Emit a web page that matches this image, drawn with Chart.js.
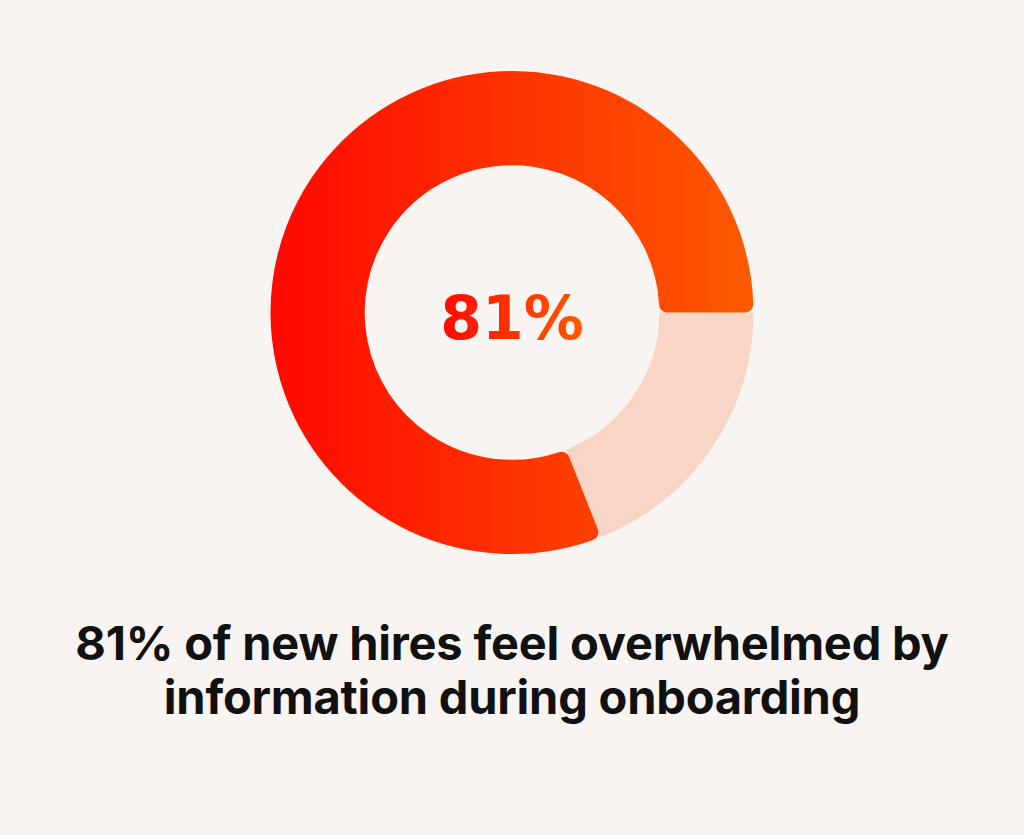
<!DOCTYPE html>
<html>
<head>
<meta charset="utf-8">
<script src="https://cdn.jsdelivr.net/npm/chart.js@4"></script>
<style>
	html, body { margin: 0; padding: 0; background: #f8f4f1; }
	.page { position: relative; width: 1024px; height: 835px; }
	.chart-wrap { position: absolute; left: 0; top: 71px; width: 1024px; height: 483px; }
	.caption {
		position: absolute; left: 0; top: 616px; width: 1024px;
		text-align: center; font-family: Inter, sans-serif; font-weight: 700;
		font-size: 47px; line-height: 54px; color: #111; letter-spacing: -0.2px;
	}
</style>
</head>
<body>
<div class="page">
	<div class="chart-wrap"><canvas id="donut"></canvas></div>
	<div class="caption">81% of new hires feel overwhelmed by<br>information during onboarding</div>
</div>
<script>
const labels = ['Not overwhelmed', 'Overwhelmed'];
const values = [19, 81];
const center_label = '81%';

const center_text = {
	id: 'center_text',
	afterDraw(chart) {
		let ctx = chart.ctx,
				arc = chart.getDatasetMeta(0).data[0];
		ctx.save();
		ctx.font = '700 60px "DejaVu Sans", sans-serif';
		ctx.textAlign = 'center';
		ctx.textBaseline = 'middle';
		let w = ctx.measureText(center_label).width;
		let g = ctx.createLinearGradient(arc.x - w / 2, 0, arc.x + w / 2, 0);
		g.addColorStop(0, '#ff0a00');
		g.addColorStop(1, '#ff5a00');
		ctx.fillStyle = g;
		ctx.fillText(center_label, arc.x, arc.y + 11);
		ctx.restore();
	}
};

new Chart(document.getElementById('donut'), {
	type: 'doughnut',
	data: {
		labels: labels,
		datasets: [{
			data: values,
			backgroundColor: (c) => {
				if (c.dataIndex === 0) return '#f8d5c5';
				let area = c.chart.chartArea;
				if (!area) return '#ff3000';
				let cx = (area.left + area.right) / 2, r = Math.min(area.width, area.height) / 2;
				let g = c.chart.ctx.createLinearGradient(cx - r, 0, cx + r, 0);
				g.addColorStop(0, '#ff0800');
				g.addColorStop(0.5, '#ff3200');
				g.addColorStop(1, '#ff5a00');
				return g;
			},
			borderWidth: 0,
			borderRadius: [0, 8],
			hoverOffset: 0
		}]
	},
	options: {
		responsive: true,
		maintainAspectRatio: false,
		animation: false,
		rotation: 90,
		cutout: '61%',
		layout: { padding: 0 },
		plugins: {
			legend: { display: false },
			tooltip: { enabled: false }
		}
	},
	plugins: [center_text]
});
</script>
</body>
</html>
